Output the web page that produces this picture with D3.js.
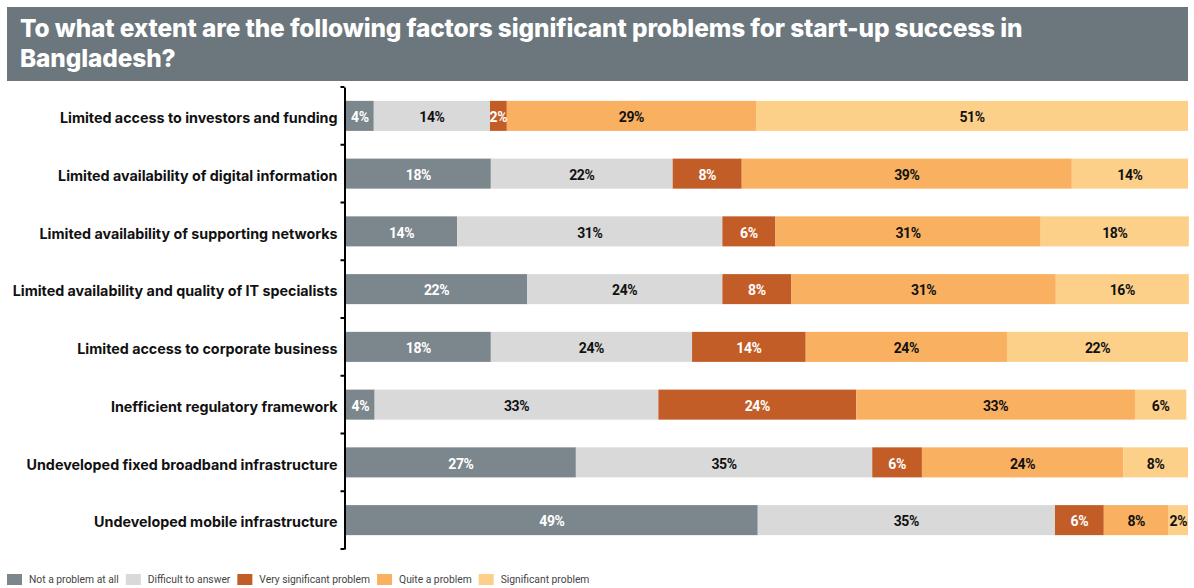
<!DOCTYPE html>
<html>
<head>
<meta charset="utf-8">
<script src="https://cdn.jsdelivr.net/npm/d3@7"></script>
<style>
  body { margin: 0; background: #fff; }
  svg { display: block; }
</style>
</head>
<body>
<svg id="chart" width="1194" height="588"></svg>
<script>
/************
** data
*************/
var titleLines = [
    "To what extent are the following factors significant problems for start-up success in",
    "Bangladesh?"
];
var categories = [
    "Limited access to investors and funding",
    "Limited availability of digital information",
    "Limited availability of supporting networks",
    "Limited availability and quality of IT specialists",
    "Limited access to corporate business",
    "Inefficient regulatory framework",
    "Undeveloped fixed broadband infrastructure",
    "Undeveloped mobile infrastructure"
];
var seriesNames = ["Not a problem at all", "Difficult to answer", "Very significant problem", "Quite a problem", "Significant problem"];

// shares
var notAProblem    = [3.3, 17.2, 13.2, 21.5, 17.2, 3.4, 27.3, 48.9];
var difficult      = [13.8, 21.6, 31.5, 23.2, 23.9, 33.7, 35.2, 35.3];
var verySignificant = [2.0, 8.2, 6.3, 8.2, 13.5, 23.5, 5.9, 5.8];
var quiteAProblem  = [29.6, 39.2, 31.5, 31.4, 23.9, 33.1, 23.9, 7.7];
var significant    = [51.3, 13.8, 17.6, 15.8, 21.5, 6.1, 7.7, 2.3];

// percentages printed on the bars
var notAProblemLabels    = [4, 18, 14, 22, 18, 4, 27, 49];
var difficultLabels      = [14, 22, 31, 24, 24, 33, 35, 35];
var verySignificantLabels = [2, 8, 6, 8, 14, 24, 6, 6];
var quiteAProblemLabels  = [29, 39, 31, 31, 24, 33, 24, 8];
var significantLabels    = [51, 14, 18, 16, 22, 6, 8, 2];

/************
** colors
*************/
var colors = ["#7b868d", "#d9d9d9", "#c25d27", "#f9b060", "#fdd08a"];
var labelColors = ["#fff", "#111", "#fff", "#111", "#111"];
var titleBg = "#6b767d";

var seriesValues = [notAProblem, difficult, verySignificant, quiteAProblem, significant];
var seriesLabels = [notAProblemLabels, difficultLabels, verySignificantLabels, quiteAProblemLabels, significantLabels];

var rows = categories.map(function(c, i){
    var row = { category: c };
    seriesNames.forEach(function(s, j){ row[s] = seriesValues[j][i]; });
    return row;
});
var stacked = d3.stack().keys(seriesNames)(rows);

/************
** chart
*************/
var svg = d3.select("#chart");

var x = d3.scaleLinear().domain([0, 100]).range([346, 1188]);
var y = d3.scaleBand().domain(categories).range([87, 549]).paddingInner(0.48).paddingOuter(0.24);

// title band
svg.append("rect")
    .attr("x", 7).attr("y", 7).attr("width", 1181).attr("height", 74)
    .attr("fill", titleBg);
svg.append("g").selectAll("text").data(titleLines).enter().append("text")
    .attr("x", 20)
    .attr("y", function(d, i){ return 37 + i * 30; })
    .attr("fill", "#fff")
    .style("font-family", "Inter, Roboto, sans-serif")
    .style("font-weight", 800)
    .style("font-size", "24.4px")
    .style("letter-spacing", "-0.1px")
    .text(function(d){ return d; });

// bars
var layer = svg.append("g").selectAll("g").data(stacked).enter().append("g")
    .attr("fill", function(d, i){ return colors[i]; });
layer.selectAll("rect").data(function(d){ return d; }).enter().append("rect")
    .attr("x", function(d){ return x(d[0]); })
    .attr("y", function(d){ return y(d.data.category); })
    .attr("width", function(d){ return x(d[1]) - x(d[0]); })
    .attr("height", y.bandwidth());

// bar labels
var labelLayer = svg.append("g").selectAll("g").data(stacked).enter().append("g")
    .attr("fill", function(d, i){ return labelColors[i]; });
labelLayer.selectAll("text").data(function(d){ return d; }).enter().append("text")
    .attr("x", function(d){ return (x(d[0]) + x(d[1])) / 2; })
    .attr("y", function(d){ return y(d.data.category) + y.bandwidth() / 2; })
    .attr("dy", "0.45em")
    .attr("text-anchor", "middle")
    .style("font-family", "Roboto, sans-serif")
    .style("font-weight", 700)
    .style("font-size", "14px")
    .style("letter-spacing", "-0.4px")
    .text(function(d, i){
        var k = d3.select(this.parentNode).datum().index;
        return seriesLabels[k][i] + "%";
    });

// y axis with ticks between the rows
var axis = d3.axisLeft(y).tickSize(0).tickPadding(7);
var gAxis = svg.append("g").attr("transform", "translate(344.5,0)").call(axis);
gAxis.select(".domain").attr("stroke", "#000").attr("stroke-width", 2);
gAxis.selectAll(".tick text")
    .attr("fill", "#111")
    .attr("dy", "0.5em")
    .style("font-family", "Inter, Roboto, sans-serif")
    .style("font-weight", 700)
    .style("font-size", "14.3px")
    .style("letter-spacing", "0px");
var edges = categories.map(function(c){ return y(c) - y.step() * y.paddingInner() / 2; });
edges.push(y.range()[1]);
gAxis.selectAll(".edge").data(edges).enter().append("line")
    .attr("class", "edge")
    .attr("x1", -4).attr("x2", 0)
    .attr("y1", function(d){ return d; }).attr("y2", function(d){ return d; })
    .attr("stroke", "#000").attr("stroke-width", 2);

// legend
var legend = svg.append("g").attr("transform", "translate(7,574)");
var lx = 0;
seriesNames.forEach(function(name, i){
    var item = legend.append("g").attr("transform", "translate(" + lx + ",0)");
    item.append("rect").attr("width", 15).attr("height", 11).attr("fill", colors[i]);
    var t = item.append("text")
        .attr("x", 22).attr("y", 9)
        .attr("fill", "#444")
        .style("font-family", "Roboto, sans-serif")
        .style("font-size", "10.3px")
        .text(name);
    lx += 22 + t.node().getComputedTextLength() + 7;
});
</script>
</body>
</html>
